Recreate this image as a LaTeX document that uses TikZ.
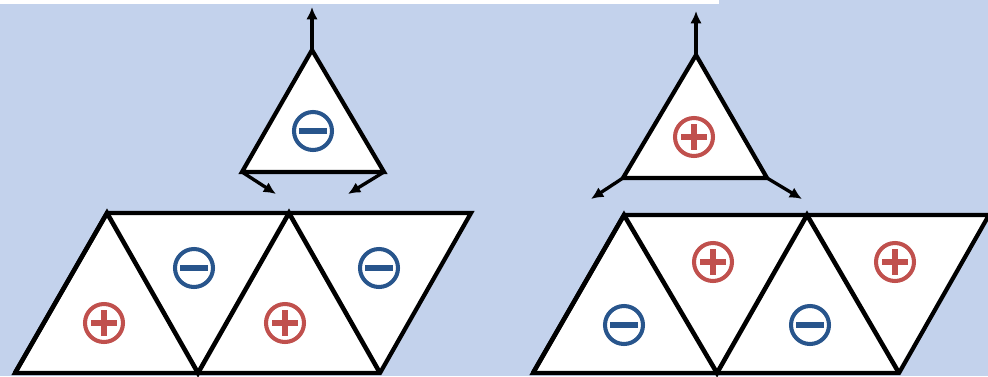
\documentclass[tikz,border=0pt]{standalone}
\usepackage{tikz}
\usetikzlibrary{arrows.meta}

\definecolor{bgblue}{RGB}{195,210,236}
\definecolor{plusred}{RGB}{192,80,77}
\definecolor{minusblue}{RGB}{40,85,140}

\tikzset{
	chargeplus/.pic={
		\draw[plusred, line width=2.3pt] (0,0) circle (19);
		\draw[plusred, line width=2.9pt] (-13,0) -- (13,0) (0,-13) -- (0,13);
	},
	chargeminus/.pic={
		\draw[minusblue, line width=2.3pt] (0,0) circle (19);
		\draw[minusblue, line width=2.9pt] (-14,0) -- (14,0);
	}
}

\begin{document}
\begin{tikzpicture}[x=0.02cm, y=-0.02cm, line join=miter,
	tile/.style={fill=white, draw=black, line width=2.4pt},
	zig/.style={draw=black, line width=2.6pt},
	spin/.style={-{Latex[length=7pt, width=6.5pt]}, line width=1.9pt}]
	\useasboundingbox[fill=bgblue] (0,0) rectangle (988,376);
	\fill[white] (0,0) rectangle (719,4);

	% left: strip of triangles
	\coordinate (lt1) at (107,213); \coordinate (lt2) at (289,213); \coordinate (lt3) at (471,213);
	\coordinate (lb1) at (15,373); \coordinate (lb2) at (198,373); \coordinate (lb3) at (380,373);
	\path[tile] (lb1) -- (lb3) -- (lt3) -- (lt1) -- cycle;
	\draw[zig] (lb1) -- (lt1) -- (lb2) -- (lt2) -- (lb3);
	\pic at (104,323) {chargeplus};
	\pic at (194,268) {chargeminus};
	\pic at (285,323) {chargeplus};
	\pic at (379,268) {chargeminus};

	% left: single triangle
	\coordinate (la) at (312,50); \coordinate (ll) at (242,172); \coordinate (lr) at (384,172);
	\coordinate (lau) at (312,7); \coordinate (llu) at (276,194); \coordinate (lru) at (348,194);
	\draw[spin] (la) -- (lau);
	\draw[spin] (ll) -- (llu);
	\draw[spin] (lr) -- (lru);
	\path[tile] (la) -- (ll) -- (lr) -- cycle;
	\pic at (313,131) {chargeminus};

	% right: strip of triangles
	\coordinate (rt1) at (624,215); \coordinate (rt2) at (807,215); \coordinate (rt3) at (989,215);
	\coordinate (rb1) at (533,373); \coordinate (rb2) at (717,373); \coordinate (rb3) at (899,373);
	\path[tile] (rb1) -- (rb3) -- (rt3) -- (rt1) -- cycle;
	\draw[zig] (rb1) -- (rt1) -- (rb2) -- (rt2) -- (rb3);
	\pic at (624,325) {chargeminus};
	\pic at (713,262) {chargeplus};
	\pic at (810,325) {chargeminus};
	\pic at (895,262) {chargeplus};

	% right: single triangle
	\coordinate (ra) at (696,55); \coordinate (rl) at (623,178); \coordinate (rr) at (767,178);
	\coordinate (rau) at (696,11); \coordinate (rlu) at (591,199); \coordinate (rru) at (802,199);
	\draw[spin] (ra) -- (rau);
	\draw[spin] (rl) -- (rlu);
	\draw[spin] (rr) -- (rru);
	\path[tile] (ra) -- (rl) -- (rr) -- cycle;
	\pic at (694,137) {chargeplus};
\end{tikzpicture}
\end{document}
